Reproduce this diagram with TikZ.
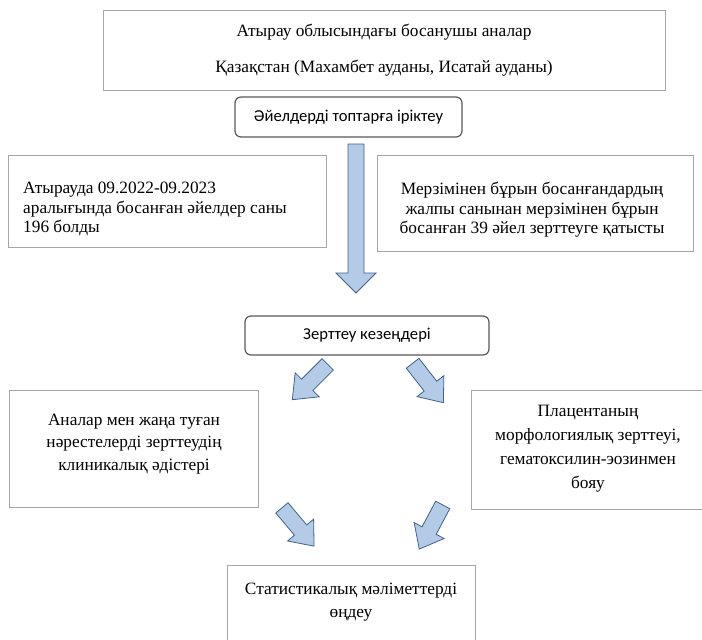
\documentclass[tikz,border=0pt]{standalone}
\usepackage{fontspec}
\setmainfont{Liberation Serif}
\newfontfamily\sansf{Carlito}
\definecolor{boxgray}{HTML}{A6A6A6}
\definecolor{rndgray}{HTML}{595959}
\definecolor{arrfill}{HTML}{B4CBE8}
\definecolor{arrdraw}{HTML}{41628A}
\tikzset{
  plainbox/.style={draw=boxgray, line width=0.9pt, fill=white, inner sep=0pt},
  roundbox/.style={draw=rndgray, line width=1.2pt, rounded corners=6pt, fill=white, inner sep=0pt,
    font=\sansf\fontsize{16.6}{18}\selectfont},
  serif/.style={font=\rmfamily\fontsize{17.3}{19.5}\selectfont, inner sep=0pt, align=center},
  serifwide/.style={font=\rmfamily\fontsize{17.3}{22.3}\selectfont, inner sep=0pt, align=center},
  serifwider/.style={font=\rmfamily\fontsize{17.3}{24}\selectfont, inner sep=0pt, align=center},
  blockfill/.style={fill=arrfill, draw=arrdraw, line width=0.8pt, line join=miter},
  pics/barrow/.style n args={4}{code={
    \path[blockfill] (-#1/2,-#2) -- (#1/2-#4,-#2) -- (#1/2-#4,-#3) -- (#1/2,0)
      -- (#1/2-#4,#3) -- (#1/2-#4,#2) -- (-#1/2,#2) -- cycle;}}
}
\begin{document}
\begin{tikzpicture}[x=1pt, y=-1pt]
\useasboundingbox (0,0) rectangle (702,640);
% boxes
\node[plainbox, minimum width=562pt, minimum height=80pt] (top) at (384,50) {};
\node[serif] (topA) at (384,32) {Атырау облысындағы босанушы аналар};
\node[serif] (topB) at (384,68) {Қазақстан (Махамбет ауданы, Исатай ауданы)};
\node[roundbox, minimum width=227pt, minimum height=40pt] (sel) at (348.5,117) {Әйелдерді топтарға іріктеу};
\node[plainbox, minimum width=318pt, minimum height=92pt] (left1) at (167,201) {};
\node[serif, anchor=west, align=left] (left1t) at (23,209) {Атырауда 09.2022-09.2023\\аралығында босанған әйелдер саны\\196 болды};
\node[plainbox, minimum width=316pt, minimum height=96pt] (right1) at (535,203) {};
\node[serif] (right1t) at (532,210) {Мерзімінен бұрын босанғандардың\\жалпы санынан мерзімінен бұрын\\босанған 39 әйел зерттеуге қатысты};
\node[roundbox, minimum width=244pt, minimum height=39pt] (stages) at (367,335.5) {Зерттеу кезеңдері};
\node[plainbox, minimum width=249pt, minimum height=117pt] (left2) at (133.5,448.5) {};
\node[serifwide] (left2t) at (134,444) {Аналар мен жаңа туған\\нәрестелерді зерттеудің\\клиникалық әдістері};
\node[plainbox, minimum width=236pt, minimum height=119pt] (right2) at (589,449.5) {};
\node[serifwider] (right2t) at (588,449) {Плацентаның\\морфологиялық зерттеуі,\\гематоксилин-эозинмен\\бояу};
\node[plainbox, minimum width=248pt, minimum height=85pt] (stat) at (351,607.5) {};
\node[serifwide] (statt) at (351,602) {Статистикалық мәліметтерді\\өңдеу};
% block arrows
\pic[rotate=-90] at (356,218.5) {barrow={149}{8}{20}{20}};
\pic[rotate=225] at (310,382) {barrow={50}{8}{17}{21}};
\pic[rotate=-52] at (428,383) {barrow={50}{8}{17}{21}};
\pic[rotate=-50] at (298,527) {barrow={50}{8}{17}{21}};
\pic[rotate=-118] at (431,527) {barrow={50}{8}{17}{21}};
\end{tikzpicture}
\end{document}
